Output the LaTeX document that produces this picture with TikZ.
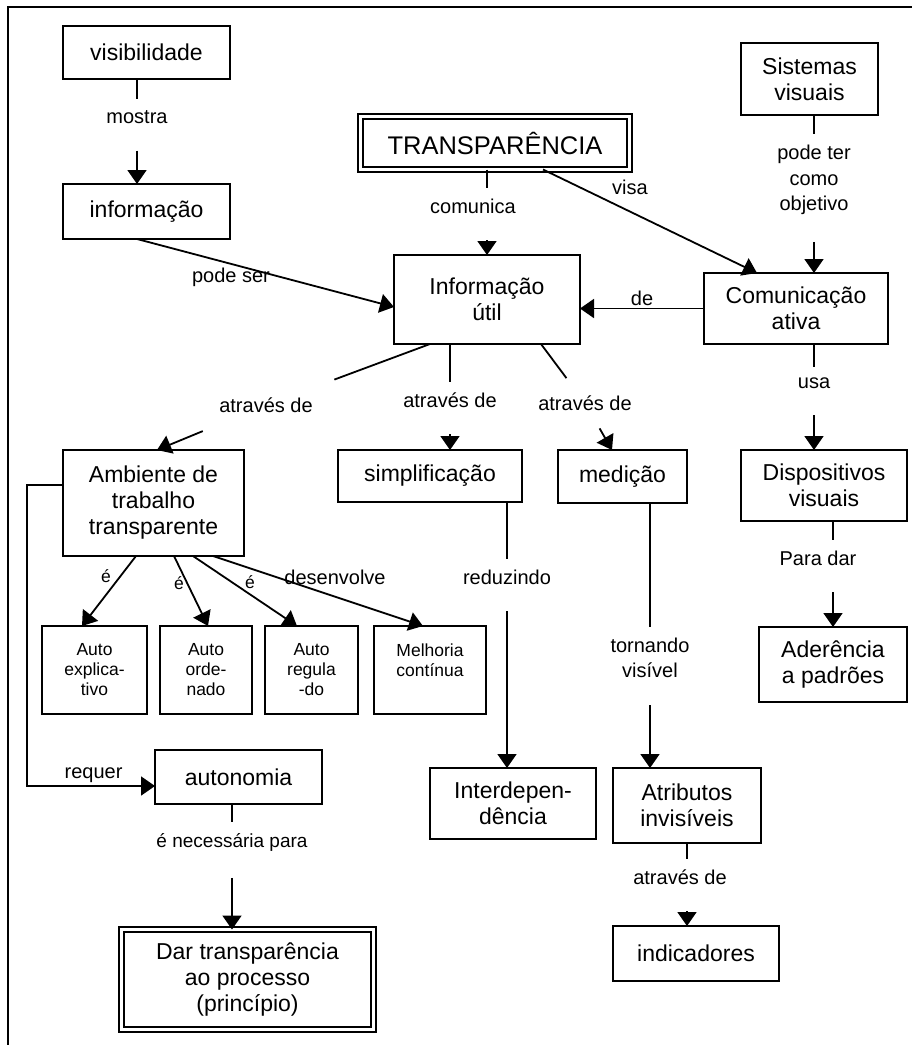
\documentclass[tikz,border=0pt]{standalone}
\usepackage{fontspec}
\setmainfont{Liberation Sans}
\usetikzlibrary{arrows.meta}

\newcommand{\boxfont}{\fontsize{23}{26}\selectfont}
\newcommand{\titlefont}{\fontsize{25.5}{29}\selectfont}
\newcommand{\linkfont}{\fontsize{20}{25.5}\selectfont}
\newcommand{\smallboxfont}{\fontsize{17.5}{20}\selectfont}

\begin{document}
\begin{tikzpicture}[x=1pt,y=-1pt]
  \tikzset{ConceptStyle/.style = {
    shape         = rectangle,
    draw          = black,
    fill          = white,
    line width    = 2.4pt,
    text          = black,
    font          = \boxfont,
    align         = center,
    inner sep     = 2pt,
    outer sep     = 0pt
    }
  }
  \tikzset{MainConceptStyle/.style = {
    ConceptStyle,
    double,
    double distance = 3pt,
    line width      = 2pt
    }
  }
  \tikzset{SmallConceptStyle/.style = {
    ConceptStyle,
    font          = \smallboxfont,
    minimum height = 88pt
    }
  }
  \tikzset{LinkLabelStyle/.style = {
    font          = \linkfont,
    align         = center,
    text          = black,
    inner xsep    = 4pt,
    inner ysep    = 11pt,
    outer sep     = 0pt
    }
  }
  \tikzset{EdgeStyle/.style = {
    draw          = black,
    line width    = 1.8pt
    }
  }
  \tikzset{ArrowStyle/.style = {
    EdgeStyle,
    -{Triangle[length=14pt,width=19pt]}
    }
  }
  \tikzset{LinkArrowStyle/.style = {
    ArrowStyle,
    shorten <=16pt
    }
  }

  \useasboundingbox (0,0) rectangle (912,1045);
  \draw[line width=1.6pt] (8,1045) -- (8,7) -- (912,7);

  % concepts
  \node[ConceptStyle, minimum width=167pt, minimum height=53pt](visib) at (146.5,52.5) {visibilidade};
  \node[ConceptStyle, minimum width=167pt, minimum height=55pt](info) at (146.5,211.5) {informação};
  \node[MainConceptStyle, minimum width=269pt, minimum height=53pt, font=\titlefont](transp) at (495,143) {TRANSPARÊNCIA};
  \node[ConceptStyle, minimum width=186pt, minimum height=89pt](util) at (487,299.5) {Informação\\útil};
  \node[ConceptStyle, minimum width=137pt, minimum height=72pt](sist) at (809.5,79) {Sistemas\\visuais};
  \node[ConceptStyle, minimum width=184pt, minimum height=71pt](com) at (796,308.5) {Comunicação\\ativa};
  \node[ConceptStyle, minimum width=166pt, minimum height=71pt](disp) at (824,485.5) {Dispositivos\\visuais};
  \node[ConceptStyle, minimum width=148pt, minimum height=75pt](ader) at (833,664.5) {Aderência\\a padrões};
  \node[ConceptStyle, minimum width=181pt, minimum height=106pt](amb) at (153.5,503) {Ambiente de\\trabalho\\transparente};
  \node[ConceptStyle, minimum width=184pt, minimum height=52pt](simp) at (430,476) {simplificação};
  \node[ConceptStyle, minimum width=129pt, minimum height=53pt](med) at (622.5,476.5) {medição};
  \node[SmallConceptStyle, minimum width=105pt](autoexp) at (94.5,670) {Auto\\explica-\\tivo};
  \node[SmallConceptStyle, minimum width=92pt](autoord) at (206,670) {Auto\\orde-\\nado};
  \node[SmallConceptStyle, minimum width=93pt](autoreg) at (311.5,670) {Auto\\regula\\-do};
  \node[SmallConceptStyle, minimum width=112pt](melh) at (430,670) {Melhoria\\contínua\\\mbox{}};
  \node[ConceptStyle, minimum width=167pt, minimum height=54pt](auton) at (238.5,777) {autonomia};
  \node[MainConceptStyle, minimum width=252pt, minimum height=100pt](dar) at (247.5,979.5) {Dar transparência\\ao processo\\(princípio)};
  \node[ConceptStyle, minimum width=166pt, minimum height=71pt](interd) at (513,803.5) {Interdepen-\\dência};
  \node[ConceptStyle, minimum width=148pt, minimum height=75pt](atrib) at (687,805.5) {Atributos\\invisíveis};
  \node[ConceptStyle, minimum width=166pt, minimum height=55pt](indic) at (696,953.5) {indicadores};

  % link labels
  \node[LinkLabelStyle](lmostra) at (137,117) {mostra};
  \node[LinkLabelStyle](lcomunica) at (473,206) {comunica};
  \node[LinkLabelStyle](lobjetivo) at (814,180) {pode ter\\como\\objetivo};
  \node[LinkLabelStyle](lusa) at (814,383) {usa};
  \node[LinkLabelStyle](lparadar) at (818,558) {Para dar};
  \node[LinkLabelStyle](lreduz) at (507,577) {reduzindo};
  \node[LinkLabelStyle](lvisivel) at (650,658) {tornando\\visível};
  \node[LinkLabelStyle](latrib) at (680,877) {através de};
  \node[LinkLabelStyle, font=\fontsize{19}{24}\selectfont](lnecess) at (232,842) {é necessária para};
  \node[LinkLabelStyle](latr1) at (266,405) {através de};
  \node[LinkLabelStyle](latr2) at (450,400) {através de};
  \node[LinkLabelStyle](latr3) at (585,403) {através de};
  \node[LinkLabelStyle](lvisa) at (630,187) {visa};
  \node[LinkLabelStyle](lpodeser) at (231,277) {pode ser};
  \node[LinkLabelStyle, font=\smallboxfont](le1) at (106,576) {é};
  \node[LinkLabelStyle, font=\smallboxfont](le2) at (179,583) {é};
  \node[LinkLabelStyle, font=\smallboxfont](le3) at (250,582) {é};
  \node[LinkLabelStyle](ldesenv) at (335,577) {desenvolve};

  % links
  \draw[EdgeStyle](visib.south -| lmostra) -- (lmostra.north);
  \draw[LinkArrowStyle](lmostra.south) -- (info.north -| lmostra);
  \draw[EdgeStyle](transp.south -| util) -- (lcomunica.north -| util);
  \draw[LinkArrowStyle](lcomunica.south -| util) -- (util.north);
  \draw[EdgeStyle](sist.south -| lobjetivo) -- (lobjetivo.north);
  \draw[LinkArrowStyle](lobjetivo.south) -- (com.north -| lobjetivo);
  \draw[EdgeStyle](com.south -| lusa) -- (lusa.north);
  \draw[LinkArrowStyle](lusa.south) -- (disp.north -| lusa);
  \draw[EdgeStyle](disp.south -| ader) -- (lparadar.north -| ader);
  \draw[LinkArrowStyle](lparadar.south -| ader) -- (ader.north);
  \draw[EdgeStyle](simp.south -| lreduz) -- (lreduz.north);
  \draw[LinkArrowStyle](lreduz.south) -- (interd.north -| lreduz);
  \draw[EdgeStyle](med.south -| lvisivel) -- (lvisivel.north);
  \draw[LinkArrowStyle](lvisivel.south) -- (atrib.north -| lvisivel);
  \draw[EdgeStyle](atrib.south -| atrib) -- (latrib.north -| atrib);
  \draw[LinkArrowStyle](latrib.south -| atrib) -- (indic.north -| atrib);
  \draw[EdgeStyle](auton.south -| lnecess) -- (lnecess.north);
  \draw[LinkArrowStyle](lnecess.south) -- (dar.north -| lnecess);
  \draw[EdgeStyle](util.south -| latr2) -- (latr2.north);
  \draw[LinkArrowStyle](latr2.south) -- (simp.north -| latr2);
  \draw[EdgeStyle, shorten >=20pt]([xshift=-57pt]util.south) -- (latr1);
  \draw[ArrowStyle, shorten <=20pt](latr1) -- ([xshift=3.5pt]amb.north);
  \draw[EdgeStyle, shorten >=8pt]([xshift=54pt]util.south) -- (latr3);
  \draw[ArrowStyle, shorten <=8pt](latr3) -- ([xshift=-10.5pt]med.north);
  \draw[ArrowStyle]([xshift=48pt]transp.south) -- ([xshift=-39pt]com.north);
  \draw[ArrowStyle](com.west) -- node[LinkLabelStyle, above, inner ysep=3pt](lde){de} (com.west -| util.east);
  \draw[ArrowStyle](info.south -| lmostra) -- ([yshift=-7.5pt]util.west);
  \draw[ArrowStyle]([xshift=-17.5pt]amb.south) -- ([xshift=-12.5pt]autoexp.north);
  \draw[ArrowStyle]([xshift=20.5pt]amb.south) -- ([xshift=2pt]autoord.north);
  \draw[ArrowStyle]([xshift=39.5pt]amb.south) -- ([xshift=-14.5pt]autoreg.north);
  \draw[ArrowStyle]([xshift=59.5pt]amb.south) -- ([xshift=-7pt]melh.north);
  \draw[ArrowStyle]([yshift=18pt]amb.west) -- ++(-36,0) |- node[LinkLabelStyle, pos=0.76, above, inner ysep=3pt](lrequer){requer} ([yshift=-9pt]auton.west);

\end{tikzpicture}
\end{document}
